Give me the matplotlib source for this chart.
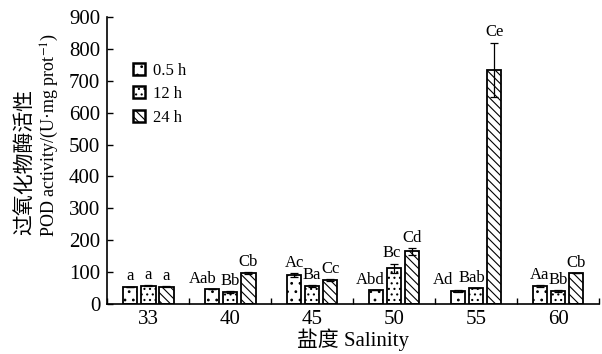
#!/usr/bin/env python3

"""POD activity under different salinity and exposure time."""
import numpy as np
from matplotlib import pyplot as plt

plt.rcParams['font.family'] = ['Liberation Serif', 'Noto Sans CJK SC']
plt.rcParams['hatch.linewidth'] = 0.8
plt.rcParams['mathtext.fontset'] = 'stix'

salinity = ['33', '40', '45', '50', '55', '60']
times = ['0.5 h', '12 h', '24 h']

pod_05h = [55, 48, 91, 44, 40, 56]
pod_12h = [58, 38, 57, 112, 51, 41]
pod_24h = [55, 98, 75, 165, 735, 98]

err_05h = [0, 0, 5, 0, 3, 3]
err_12h = [2, 4, 3, 15, 0, 2]
err_24h = [2, 3, 3, 12, 85, 0]

sig_05h = ['a', 'Aab', 'Ac', 'Abd', 'Ad', 'Aa']
sig_12h = ['a', 'Bb', 'Ba', 'Bc', 'Bab', 'Bb']
sig_24h = ['a', 'Cb', 'Cc', 'Cd', 'Ce', 'Cb']

hatches = ['..', '...', '\\\\\\\\']

# horizontal nudges (points) so neighbouring letters don't collide
nudge = [[0, -7, 0, -4, -11, 0],
         [0, 0, 0, -2, -3, 0],
         [0, 0, 0, 0, 0, 0]]

fig = plt.figure(figsize=(6.02, 3.54), dpi=100)
ax = fig.add_axes([0.178, 0.141, 0.817, 0.811])

x = np.arange(len(salinity))
width = 0.18
offsets = [-0.22, 0.0, 0.22]
series = [(pod_05h, err_05h, sig_05h),
          (pod_12h, err_12h, sig_12h),
          (pod_24h, err_24h, sig_24h)]

for i, (vals, errs, sigs) in enumerate(series):
    xs = x + offsets[i]
    ax.bar(xs, vals, width, color='white', edgecolor='black',
           linewidth=1.3, hatch=hatches[i], label=times[i])
    ax.errorbar(xs, vals, yerr=errs, fmt='none', ecolor='black',
                elinewidth=0.9, capsize=3, capthick=0.9, zorder=3)
    for j, (xi, v, e, s) in enumerate(zip(xs, vals, errs, sigs)):
        ax.annotate(s, (xi, v + e), xytext=(nudge[i][j], 1.5),
                    textcoords='offset points',
                    ha='center', va='bottom', fontsize=12)

ax.set_xlim(-0.5, len(salinity) - 0.5)
ax.set_ylim(0, 900)
ax.set_yticks(range(0, 1000, 100))
ax.set_xticks(x)
ax.set_xticklabels(salinity)
ax.set_xticks(np.arange(-0.5, len(salinity), 1.0), minor=True)
ax.tick_params(axis='x', which='major', length=0, labelsize=15, pad=4)
ax.tick_params(axis='x', which='minor', direction='in', length=4, width=1)
ax.tick_params(axis='y', direction='in', length=4, width=1, labelsize=15,
               pad=5)
for side in ('top', 'right'):
    ax.spines[side].set_visible(False)
for side in ('left', 'bottom'):
    ax.spines[side].set_linewidth(1.2)

ax.set_xlabel('盐度 Salinity', fontsize=15, labelpad=0)

# two-line y label, Chinese line slightly larger than the English one
fig.text(0.042, 0.335, '过氧化物酶活性', rotation=90, fontsize=15,
         ha='center', va='bottom')
fig.text(0.082, 0.330, 'POD activity/(U·mg prot$^{-1}$)', rotation=90,
         fontsize=13, ha='center', va='bottom')

leg = ax.legend(loc='upper left', bbox_to_anchor=(0.035, 0.87), frameon=False,
                fontsize=12, handlelength=0.75, handleheight=0.75,
                handletextpad=0.45, labelspacing=0.45, borderpad=0)
for patch in leg.get_patches():
    patch.set_linewidth(1.8)

fig.savefig('out.png', dpi=100)
